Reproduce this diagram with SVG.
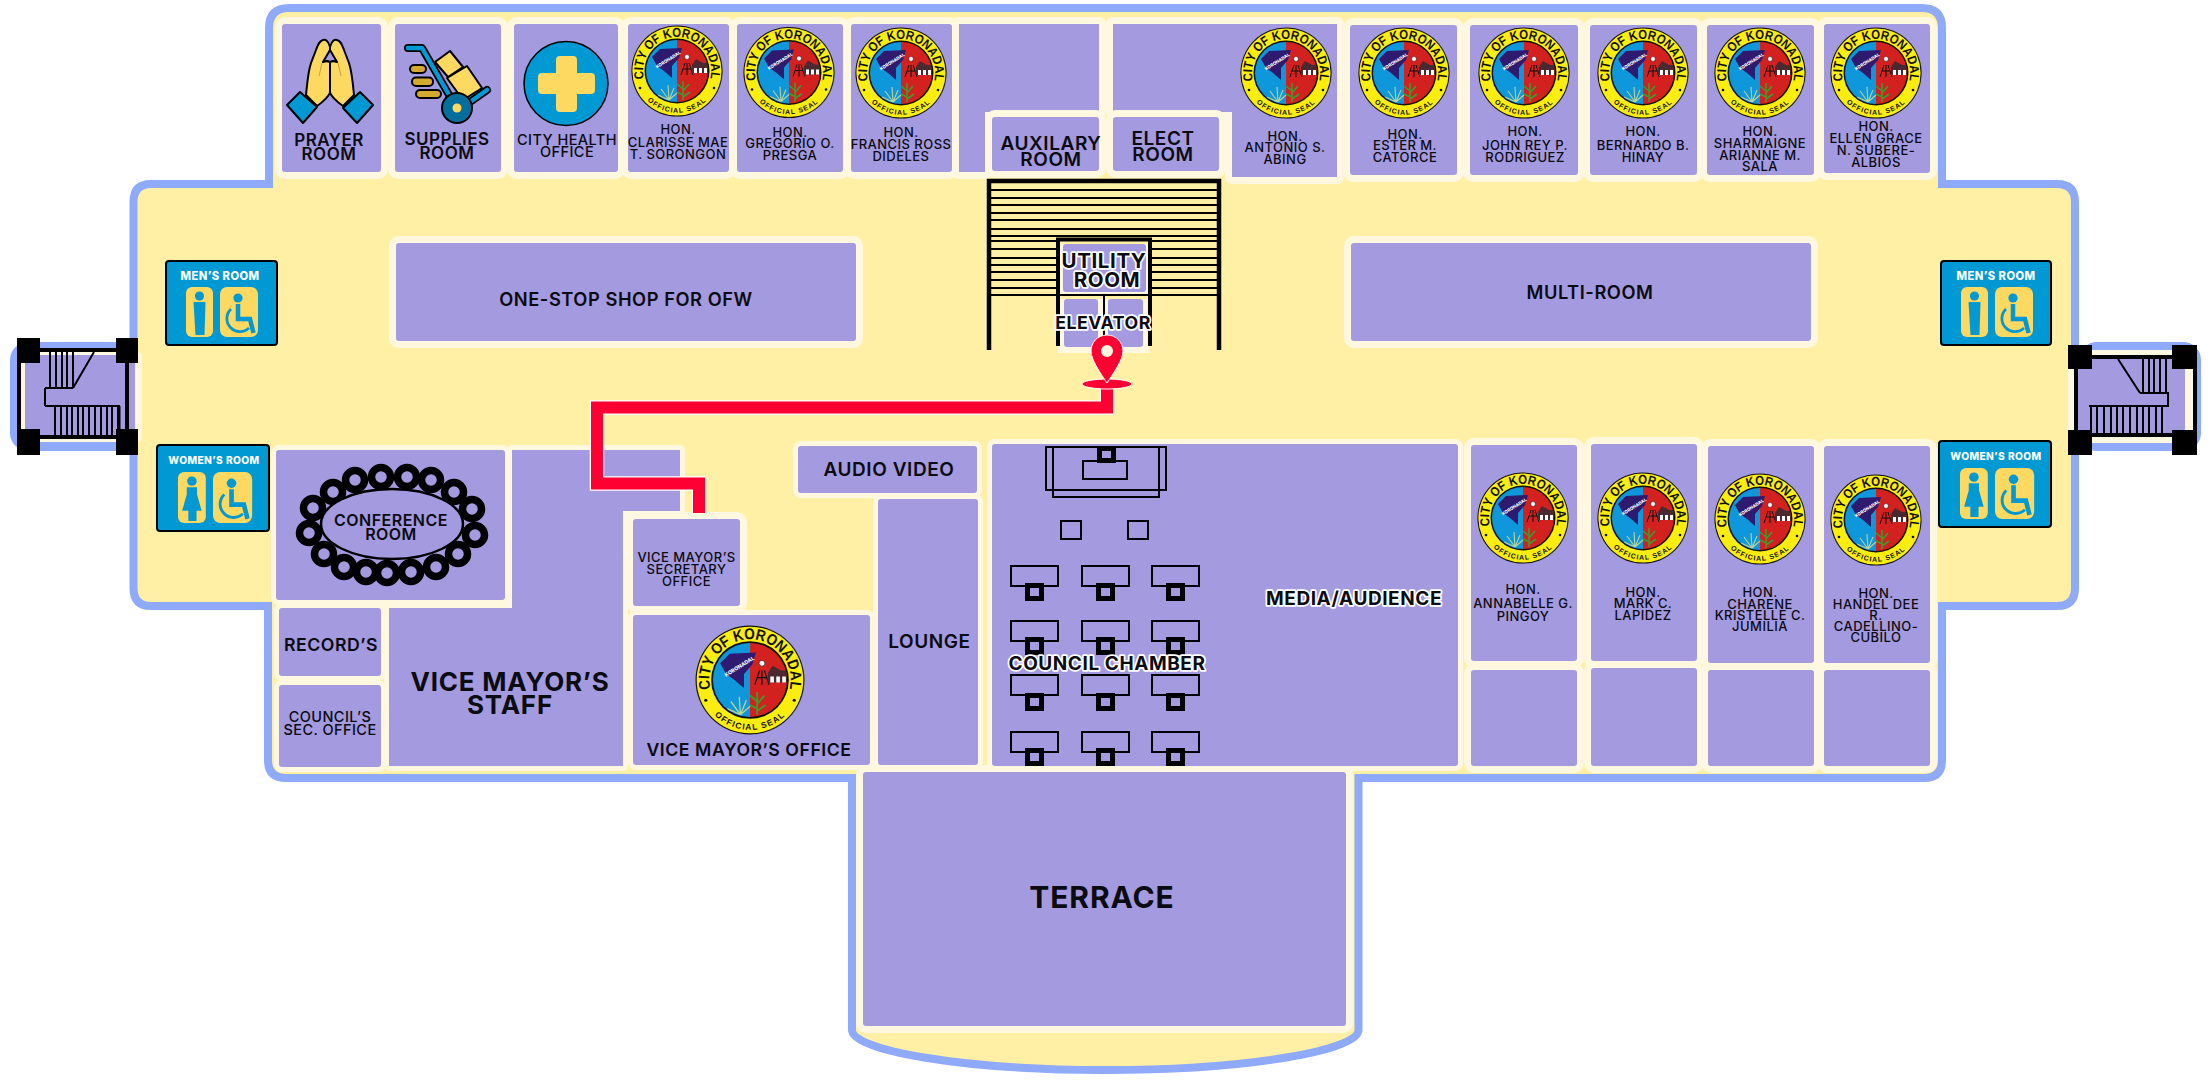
<svg xmlns="http://www.w3.org/2000/svg" width="2210" height="1080" viewBox="0 0 2210 1080">
<style>
text{font-family:"Inter","Liberation Sans",sans-serif;font-weight:600;fill:#0b0b12;text-anchor:middle;letter-spacing:.03em}
.r{fill:#A49ADF;stroke:#FFF8E0;stroke-width:14;paint-order:stroke;stroke-linejoin:round}
.s{fill:#A49ADF;stroke:#FFF8E0;stroke-width:10;paint-order:stroke;stroke-linejoin:round}
.h{stroke:#fff;stroke-width:3.5;paint-order:stroke;stroke-linejoin:round;font-weight:700}
.t13{font-size:13px;font-weight:500;letter-spacing:.035em}.t14{font-size:14.5px;font-weight:500}.t16{font-size:16px}.t17{font-size:17px}.t175{font-size:17.7px}.t18{font-size:18.3px}.t19{font-size:19px}.t20{font-size:20.500px}.t26{font-size:26px;font-weight:700}.t30{font-size:30px;font-weight:700}
.k{fill:none;stroke:#000}
.wc{fill:#0099D3;stroke:#000;stroke-width:2}
.wl{font-size:11.2px;font-weight:800;fill:#fff;letter-spacing:.04em}
.wf{font-size:10.200px}
.b{fill:#000}
.hole{fill:#A49ADF}
.desk{fill:none;stroke:#000;stroke-width:2}
.ch{fill:#A49ADF;stroke:#000;stroke-width:5}
.ring{fill:#A49ADF;stroke:#000;stroke-width:7.5}
.ic{stroke:#000;stroke-width:2;stroke-linejoin:round}
.sl{font-family:"Liberation Sans",sans-serif;font-weight:700;fill:#111;letter-spacing:0}
</style>
<defs>
<path id="sa" d="M-29.400 17A34 34 0 1 1 29.400 17"/>
<path id="sb" d="M-39 14.800A41.700 41.700 0 0 0 39 14.800"/>
<clipPath id="sc"><circle r="31"/></clipPath>
<g id="seal">
<circle r="45.6" fill="#111"/><circle r="44.6" fill="#FBEE0F"/><circle r="32.5" fill="#111"/>
<g clip-path="url(#sc)">
<rect x="-32" y="-32" width="32" height="64" fill="#0F97DB"/><rect x="0" y="-32" width="32" height="64" fill="#D3211F"/>
<path d="M-25-14-17-22 5-23 2-13-5-5-5 7-13 0-20-5Z" fill="#2E1A6E"/>
<path d="M8-8 4 4M12-8 16 4M10-8V4M6-2H14" fill="none" stroke="#111" stroke-width="1"/><circle cx="10" cy="-14" r="2.400" fill="#fff" stroke="#111" stroke-width=".5"/>
<path d="M15-6 19-12 26-8 31-8V2H15Z" fill="#4a2a30"/><path d="M17-3h3v5h-3zM22-3h3v5h-3zM27-3h3v5h-3z" fill="#fff"/>
<path d="M6 29V10M6 18 0 13M6 20 12 13M6 24 0 21M6 26 13 21" fill="none" stroke="#3E9A2E" stroke-width="1.6"/>
<path d="M-8 29-9 14M-8 29-16 18M-8 29-3 17M-8 29-19 24M-8 29 0 22" fill="none" stroke="#B9D39A" stroke-width="1.1"/>
</g>
<text style="font-size:4.4px;font-weight:800;fill:#fff;letter-spacing:0" transform="translate(-8 -10) rotate(-32)">KORONADAL</text>
<text class="sl" style="font-size:13px"><textPath href="#sa" startOffset="50%" textLength="122" lengthAdjust="spacingAndGlyphs">CITY OF KORONADAL</textPath></text>
<text class="sl" style="font-size:7px;letter-spacing:.14em"><textPath href="#sb" startOffset="50%">OFFICIAL SEAL</textPath></text>
<circle cx="-37" cy="17" r="1.300" fill="#111"/><circle cx="37" cy="17" r="1.300" fill="#111"/>
</g>
<g id="male"><rect width="27" height="50" rx="6" fill="#FDD962"/><circle cx="13.500" cy="9" r="4.600" fill="#0099D3"/><path d="M7.500 15H19.500L18.500 48H9.500Z" fill="#0099D3"/></g>
<g id="female"><rect width="27" height="50" rx="6" fill="#FDD962"/><circle cx="13.500" cy="9" r="4.600" fill="#0099D3"/><path d="M8.500 15H18.500V22L23 38H18V48H10V38H4L8.500 22Z" fill="#0099D3"/></g>
<g id="wheel"><rect width="38" height="50" rx="7" fill="#FDD962"/><circle cx="18" cy="11" r="4.600" fill="#0099D3"/><path d="M18 17V32H30L33.500 46" fill="none" stroke="#0099D3" stroke-width="4.500"/><path d="M11 22A12.500 12.500 0 1 0 29 41" fill="none" stroke="#0099D3" stroke-width="2.800"/></g>
</defs>

<g id="building-outline">
<path d="M289 8H1922Q1942 8 1942 28V184H2057Q2075 184 2075 202V588Q2075 606 2057 606H1942V760Q1942 778 1924 778H1358.500V1030C1358.500 1050 1250 1070 1105 1070C960 1070 852 1050 852 1030V778H286Q268 778 268 760V606H151Q133.500 606 133.500 588V202Q133.500 184 151 184H269V28Q269 8 289 8Z" fill="#FFF0A6" stroke="#8FA9FB" stroke-width="8"/>
</g>

<g id="rooms-top">
<g id="prayer-room"><rect class="r" x="282" y="24" width="99" height="148" rx="3"/>
<path class="ic" d="M330 47C328 40 325 39 323 40C319 41 318 45 316 50L311 63C308 72 307 85 306 95L317 106C323 102 330 95 330 92V62C328 61 325 61 323 62L330 50Z" fill="#FDD962"/>
<path class="ic" d="M330 47C332 40 335 39 337 40C341 41 342 45 344 50L349 63C352 72 353 85 354 95L343 106C337 102 330 95 330 92V62C332 61 335 61 337 62L330 50Z" fill="#FDD962"/>
<path d="M322 63 319 76M338 63 341 76" fill="none" stroke="#C9A23A" stroke-width="1"/>
<path class="ic" d="M300 92 317 107 303 123 287 105Z M360 92 343 108 357 123 373 105Z" fill="#0099D3"/>
<text class="t17"><tspan x="329" y="146">PRAYER</tspan><tspan x="329" y="160">ROOM</tspan></text></g>
<g id="supplies-room"><rect class="r" x="395" y="24" width="106" height="148" rx="3"/>
<g class="ic"><rect x="410" y="65" width="16" height="8" rx="4" fill="#D5A92D"/><rect x="412" y="77.500" width="21" height="8.500" rx="4" fill="#D5A92D"/><rect x="416" y="90" width="25" height="8" rx="4" fill="#D5A92D"/></g>
<path d="M408 48H422L452 100M470 102 487 90" fill="none" stroke="#000" stroke-width="8" stroke-linecap="round" stroke-linejoin="round"/>
<path d="M408 48H422L452 100M470 102 487 90" fill="none" stroke="#0099D3" stroke-width="4.500" stroke-linecap="round" stroke-linejoin="round"/>
<path class="ic" d="M435 62 450 51 463 67 448 77ZM447 78 467 66 482 88 463 100Z" fill="#FDD962"/>
<circle cx="457" cy="108" r="15" fill="#046E9C" stroke="#000" stroke-width="2"/><circle cx="457" cy="108" r="4.500" fill="#FDD962"/>
<text class="t17"><tspan x="447" y="145">SUPPLIES</tspan><tspan x="447" y="159">ROOM</tspan></text></g>
<g id="city-health"><rect class="r" x="514" y="24" width="104" height="148" rx="3"/>
<circle cx="566" cy="83.500" r="42" fill="#0099D3" stroke="#000" stroke-width="1.500"/><path d="M556 60Q556 56 560 56H573Q577 56 577 60V73H591Q595 73 595 77V90Q595 94 591 94H577V108Q577 112 573 112H560Q556 112 556 108V94H542Q538 94 538 90V77Q538 73 542 73H556Z" fill="#FDD962"/>
<text class="t14"><tspan x="567" y="145">CITY HEALTH</tspan><tspan x="567" y="157">OFFICE</tspan></text></g>
<g id="hon-clarisse"><rect class="r" x="628" y="24" width="101" height="148" rx="3"/><use href="#seal" x="677" y="71"/>
<text class="t13"><tspan x="678" y="134">HON.</tspan><tspan x="678" y="147">CLARISSE MAE</tspan><tspan x="678" y="159">T. SORONGON</tspan></text></g>
<g id="hon-gregorio"><rect class="r" x="737" y="24" width="106" height="148" rx="3"/><use href="#seal" x="789" y="72.500"/>
<text class="t13"><tspan x="790" y="137">HON.</tspan><tspan x="790" y="148">GREGORIO O.</tspan><tspan x="790" y="160">PRESGA</tspan></text></g>
<g id="hon-francis"><rect class="r" x="851" y="24" width="101" height="148" rx="3"/><use href="#seal" x="901" y="73"/>
<text class="t13"><tspan x="901" y="137">HON.</tspan><tspan x="901" y="149">FRANCIS ROSS</tspan><tspan x="901" y="161">DIDELES</tspan></text></g>
<g id="blank-room"><path class="r" d="M959 24H1099V112H985V172H959Z"/></g>
<g id="hon-antonio"><path class="r" d="M1113 24H1337V177H1232V112H1113Z"/><use href="#seal" x="1286" y="73"/>
<text class="t13"><tspan x="1285" y="141">HON.</tspan><tspan x="1285" y="152">ANTONIO S.</tspan><tspan x="1285" y="164">ABING</tspan></text></g>
<g id="auxilary-room"><rect class="r" x="992" y="117" width="107" height="54" rx="3"/><text class="t19"><tspan x="1051" y="150">AUXILARY</tspan><tspan x="1051" y="166">ROOM</tspan></text></g>
<g id="elect-room"><rect class="r" x="1113" y="117" width="106" height="54" rx="3"/><text class="t19"><tspan x="1163" y="145">ELECT</tspan><tspan x="1163" y="161">ROOM</tspan></text></g>
<g id="hon-ester"><rect class="r" x="1350" y="25" width="107" height="150" rx="3"/><use href="#seal" x="1404" y="73"/>
<text class="t13"><tspan x="1405" y="139">HON.</tspan><tspan x="1405" y="150">ESTER M.</tspan><tspan x="1405" y="162">CATORCE</tspan></text></g>
<g id="hon-john"><rect class="r" x="1470" y="25" width="108" height="150" rx="3"/><use href="#seal" x="1524" y="73"/>
<text class="t13"><tspan x="1525" y="136">HON.</tspan><tspan x="1525" y="150">JOHN REY P.</tspan><tspan x="1525" y="162">RODRIGUEZ</tspan></text></g>
<g id="hon-bernardo"><rect class="r" x="1590" y="25" width="107" height="150" rx="3"/><use href="#seal" x="1643" y="73"/>
<text class="t13"><tspan x="1643" y="136">HON.</tspan><tspan x="1643" y="150">BERNARDO B.</tspan><tspan x="1643" y="162">HINAY</tspan></text></g>
<g id="hon-sharmaigne"><rect class="r" x="1707" y="25" width="107" height="150" rx="3"/><use href="#seal" x="1760" y="73"/>
<text class="t13"><tspan x="1760" y="136">HON.</tspan><tspan x="1760" y="148">SHARMAIGNE</tspan><tspan x="1760" y="160">ARIANNE M.</tspan><tspan x="1760" y="171">SALA</tspan></text></g>
<g id="hon-ellen"><rect class="r" x="1824" y="24" width="106" height="149" rx="3"/><use href="#seal" x="1876" y="73"/>
<text class="t13"><tspan x="1876" y="131">HON.</tspan><tspan x="1876" y="143">ELLEN GRACE</tspan><tspan x="1876" y="155">N. SUBERE-</tspan><tspan x="1876" y="167">ALBIOS</tspan></text></g>
</g>

<g id="one-stop-shop"><rect class="r" x="396" y="243" width="460" height="98" rx="3"/><text class="t18" x="626" y="306">ONE-STOP SHOP FOR OFW</text></g>
<g id="multi-room"><rect class="r" x="1351" y="243" width="460" height="98" rx="3"/><text class="t18" x="1590" y="299">MULTI-ROOM</text></g>

<g id="central-core">
<path d="M1058 299V353H1149V299H1064Z" fill="#FFF8E0"/>
<rect class="hole" x="1064" y="299" width="34" height="48" rx="3"/><rect class="hole" x="1108" y="299" width="35" height="48" rx="3"/>
<path d="M1060 244H1148V296H1060Z" fill="#FFF8E0"/>
<rect class="hole" x="1063" y="244" width="83" height="48" rx="3"/>
<path d="M989 350V181H1219V350" class="k" stroke-width="4.500"/>
<path d="M1058 346V239.500H1150V346" class="k" stroke-width="4"/>
<path class="k" stroke-width="2" d="M991 190H1217M991 198H1217M991 205H1217M991 213H1217M991 220H1217M991 229H1217M991 241H1056M1152 241H1217M991 249H1056M1152 249H1217M991 258H1056M1152 258H1217M991 265H1056M1152 265H1217M991 272H1056M1152 272H1217M991 280H1056M1152 280H1217M991 288H1056M1152 288H1217M991 295H1217M1104 296V337"/>
<path class="k" stroke-width="2" d="M991 236H1217"/>
<text class="t20 h"><tspan x="1104" y="268">UTILITY</tspan><tspan x="1107" y="287">ROOM</tspan></text>
<text class="t175 h" x="1103" y="329">ELEVATOR</text>
</g>

<g id="left-stairs">
<rect x="10" y="342" width="122" height="109" rx="18" fill="#8FA9FB"/><rect x="21" y="352" width="121" height="90" rx="5" fill="#FFF8E0"/><rect x="25" y="355" width="110" height="83" fill="#A49ADF"/>
<path class="k" stroke-width="4" d="M19 350V437M127 350V437M19 350H127M19 437H127"/>
<path class="k" stroke-width="2" d="M50 352V388M56 352V388M62 352V388M67 352V388M73 352V388M55 406V435M61 406V435M67 406V435M72 406V435M78 406V435M83 406V435M89 406V435M95 406V435M101 406V435M107 406V435M112 406V435M118 406V435M119.500 406V435M73 388 94 352M45 388H73M45 388V406M45 406H120"/>
<path class="b" d="M17 338h23v25h-23zM116 338h22v25h-22zM17 429h23v26h-23zM116 429h22v26h-22z"/>
</g>
<g id="right-stairs">
<rect x="2079" y="342" width="122" height="109" rx="18" fill="#8FA9FB"/><rect x="2068" y="350" width="125" height="93" fill="#FFF8E0"/><rect x="2078" y="359" width="107" height="78" fill="#A49ADF"/>
<path class="k" stroke-width="4" d="M2076 357V435M2195 357V435M2076 357H2195M2076 435H2195"/>
<path class="k" stroke-width="2" d="M2143 359V393M2149 359V393M2154 359V393M2160 359V393M2166 359V393M2091 406V433M2097 406V433M2104 406V433M2111 406V433M2117 406V433M2123 406V433M2130 406V433M2137 406V433M2143 406V433M2149 406V433M2156 406V433M2162 406V433M2118 359 2140 393M2140 393H2168V406H2089"/>
<path class="b" d="M2068 345h24v24h-24zM2172 345h25v24h-25zM2068 430h24v25h-24zM2172 430h25v25h-25z"/>
</g>

<g id="mens-room-left"><rect class="wc" x="166" y="261" width="111" height="84" rx="3"/><text class="wl" x="220" y="280">MEN’S ROOM</text><use href="#male" transform="translate(186 287)"/><use href="#wheel" transform="translate(220 287)"/></g>
<g id="womens-room-left"><rect class="wc" x="157" y="445" width="112" height="86" rx="3"/><text class="wl wf" x="214" y="464">WOMEN’S ROOM</text><use href="#female" transform="translate(178 472) scale(1.03 1.02)"/><use href="#wheel" transform="translate(213 472) scale(1.03 1.02)"/></g>
<g id="mens-room-right"><rect class="wc" x="1941" y="261" width="110" height="84" rx="3"/><text class="wl" x="1996" y="280">MEN’S ROOM</text><use href="#male" transform="translate(1961 287)"/><use href="#wheel" transform="translate(1995 287)"/></g>
<g id="womens-room-right"><rect class="wc" x="1939" y="441" width="112" height="86" rx="3"/><text class="wl wf" x="1996" y="460">WOMEN’S ROOM</text><use href="#female" transform="translate(1960 468) scale(1.03 1.02)"/><use href="#wheel" transform="translate(1995 468) scale(1.03 1.02)"/></g>

<g id="rooms-bottom">
<g id="terrace"><rect class="r" x="863" y="772" width="483" height="254" rx="3"/><text class="t30" x="1102" y="908">TERRACE</text></g>
<g id="vice-mayor-staff"><path class="s" d="M512 450H680V511H623V766H389V608H512Z"/><text class="t26"><tspan x="510" y="691">VICE MAYOR’S</tspan><tspan x="510" y="714">STAFF</tspan></text></g>
<g id="conference-room"><rect class="s" x="276" y="450" width="229" height="150" rx="3"/>
<g class="rings"><circle class="ring" cx="313" cy="508" r="9.500"/><circle class="ring" cx="309" cy="533" r="9.500"/><circle class="ring" cx="324" cy="554" r="9.500"/><circle class="ring" cx="344" cy="567" r="9.500"/><circle class="ring" cx="366" cy="572" r="9.500"/><circle class="ring" cx="387" cy="573" r="9.500"/><circle class="ring" cx="411" cy="572" r="9.500"/><circle class="ring" cx="436" cy="567" r="9.500"/><circle class="ring" cx="458" cy="554" r="9.500"/><circle class="ring" cx="475" cy="535" r="9.500"/><circle class="ring" cx="472" cy="509" r="9.500"/><circle class="ring" cx="454" cy="492" r="9.500"/><circle class="ring" cx="431" cy="480" r="9.500"/><circle class="ring" cx="407" cy="477" r="9.500"/><circle class="ring" cx="381" cy="477" r="9.500"/><circle class="ring" cx="355" cy="480" r="9.500"/><circle class="ring" cx="333" cy="492" r="9.500"/></g>
<ellipse cx="392" cy="524" rx="71" ry="35" fill="#A49ADF" stroke="#000" stroke-width="2.500"/>
<text class="t16"><tspan x="391" y="526">CONFERENCE</tspan><tspan x="391" y="540">ROOM</tspan></text></g>
<g id="records"><rect class="s" x="279" y="608" width="102" height="68" rx="3"/><text class="t175" x="331" y="651">RECORD’S</text></g>
<g id="councils-sec-office"><rect class="s" x="279" y="685" width="102" height="82" rx="3"/><text class="t14"><tspan x="330" y="722">COUNCIL’S</tspan><tspan x="330" y="735">SEC. OFFICE</tspan></text></g>
<g id="vm-secretary"><rect class="r" x="633" y="519" width="107" height="87" rx="3"/><text class="t13"><tspan x="686.500" y="562">VICE MAYOR’S</tspan><tspan x="686.500" y="574">SECRETARY</tspan><tspan x="686.500" y="586">OFFICE</tspan></text></g>
<g id="vm-office"><rect class="s" x="633" y="615" width="237" height="150" rx="3"/><use href="#seal" transform="translate(750 680) scale(1.195)"/><text class="t175" x="749" y="756">VICE MAYOR’S OFFICE</text></g>
<g id="audio-video"><rect class="s" x="798" y="446" width="179" height="47" rx="3"/><text class="t19" x="889" y="476">AUDIO VIDEO</text></g>
<g id="lounge"><rect class="s" x="878" y="499" width="100" height="266" rx="3"/><text class="t19" x="929.500" y="648">LOUNGE</text></g>
<g id="council-chamber"><rect class="s" x="992" y="444" width="466" height="322" rx="3"/>
<path class="desk" d="M1046 447H1166V490H1046ZM1053 447H1159V497H1053ZM1083 461H1127V479H1083ZM1061 521H1081V539H1061ZM1128 521H1148V539H1128Z"/><rect class="ch" x="1099.500" y="448.500" width="14" height="12"/>
<path class="desk" d="M1011 566H1058V586H1011ZM1082 566H1129V586H1082ZM1152 566H1199V586H1152ZM1011 621H1058V641H1011ZM1082 621H1129V641H1082ZM1152 621H1199V641H1152ZM1011 675H1058V695H1011ZM1082 675H1129V695H1082ZM1152 675H1199V695H1152ZM1011 732H1058V752H1011ZM1082 732H1129V752H1082ZM1152 732H1199V752H1152Z"/>
<g class="ch"><rect x="1027.500" y="585.500" width="14" height="13"/><rect x="1098.500" y="585.500" width="14" height="13"/><rect x="1168.500" y="585.500" width="14" height="13"/><rect x="1027.500" y="639.500" width="14" height="13"/><rect x="1098.500" y="639.500" width="14" height="13"/><rect x="1168.500" y="639.500" width="14" height="13"/><rect x="1027.500" y="695.500" width="14" height="13"/><rect x="1098.500" y="695.500" width="14" height="13"/><rect x="1168.500" y="695.500" width="14" height="13"/><rect x="1027.500" y="750.500" width="14" height="13"/><rect x="1098.500" y="750.500" width="14" height="13"/><rect x="1168.500" y="750.500" width="14" height="13"/></g>
<text class="t19 h" x="1107" y="670">COUNCIL CHAMBER</text>
<text class="t19 h" x="1354" y="605">MEDIA/AUDIENCE</text></g>
<g id="hon-annabelle"><rect class="r" x="1471" y="445" width="106" height="216" rx="3"/><use href="#seal" x="1523" y="518"/><text class="t13"><tspan x="1523" y="594">HON.</tspan><tspan x="1523" y="608">ANNABELLE G.</tspan><tspan x="1523" y="621">PINGOY</tspan></text></g>
<g id="room-annabelle-lower"><rect class="r" x="1471" y="670" width="106" height="96" rx="3"/></g>
<g id="hon-mark"><rect class="r" x="1591" y="444" width="106" height="217" rx="3"/><use href="#seal" x="1643" y="518"/><text class="t13"><tspan x="1643" y="597">HON.</tspan><tspan x="1643" y="608">MARK C.</tspan><tspan x="1643" y="620">LAPIDEZ</tspan></text></g>
<g id="room-mark-lower"><rect class="r" x="1591" y="668" width="106" height="98" rx="3"/></g>
<g id="hon-charene"><rect class="r" x="1708" y="446" width="106" height="217" rx="3"/><use href="#seal" x="1760" y="519"/><text class="t13"><tspan x="1760" y="597">HON.</tspan><tspan x="1760" y="609">CHARENE</tspan><tspan x="1760" y="620">KRISTELLE C.</tspan><tspan x="1760" y="631">JUMILIA</tspan></text></g>
<g id="room-charene-lower"><rect class="r" x="1708" y="670" width="106" height="96" rx="3"/></g>
<g id="hon-handel"><rect class="r" x="1824" y="446" width="106" height="217" rx="3"/><use href="#seal" x="1876" y="520"/><text class="t13"><tspan x="1876" y="598">HON.</tspan><tspan x="1876" y="609">HANDEL DEE</tspan><tspan x="1876" y="620">R.</tspan><tspan x="1876" y="631">CADELLINO-</tspan><tspan x="1876" y="642">CUBILO</tspan></text></g>
<g id="room-handel-lower"><rect class="r" x="1824" y="670" width="106" height="96" rx="3"/></g>
</g>

<g id="connectors">
<path d="M1107 384V407.500H597V483.500H699V513" fill="none" stroke="#fff" stroke-width="14.500"/>
<path d="M1107 384V407.500H597V483.500H699V513" fill="none" stroke="#FF0033" stroke-width="12"/>
</g>
<g id="location-pin">
<ellipse cx="1107" cy="384" rx="25" ry="5" fill="#FF0033" stroke="#fff"/>
<path d="M1107 335C1097 335 1091 343 1091 351C1091 360 1101 374 1107 383C1113 374 1123 360 1123 351C1123 343 1117 335 1107 335Z" fill="#FF0033" stroke="#fff"/>
<circle cx="1107" cy="351" r="6" fill="#FFF8E0"/>
</g>
</svg>
